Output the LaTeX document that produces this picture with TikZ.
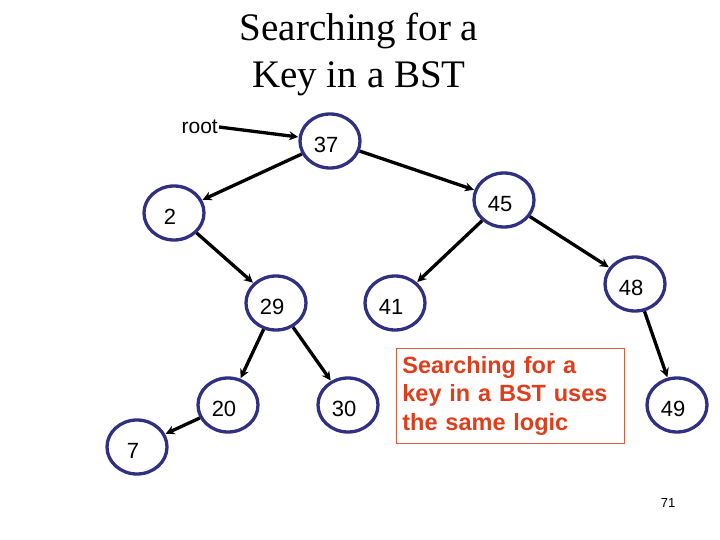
\documentclass[tikz,border=0pt]{standalone}
\usepackage{fontspec}
\setmainfont{Liberation Serif}
\newfontfamily\arialf{Liberation Sans}
\usetikzlibrary{shapes.geometric,arrows.meta}
\definecolor{navy}{RGB}{48,48,130}
\definecolor{redtext}{RGB}{222,62,28}
\definecolor{redbox}{RGB}{224,90,60}
\tikzset{
  bst/.style={ellipse, draw=navy, line width=3.3pt, minimum width=60pt, minimum height=54pt, inner sep=0pt},
  numlab/.style={font=\arialf\fontsize{22}{24}\selectfont, inner sep=0pt, xshift=-4pt, yshift=-4pt},
  edge/.style={line width=3.3pt, -{Stealth[length=9pt,width=9pt]}, shorten >=0.5pt}
}
\begin{document}
\begin{tikzpicture}[x=1pt,y=-1pt]
\useasboundingbox (0,0) rectangle (720,540);
\node[font=\fontsize{39}{47}\selectfont, align=center] (title) at (359,54) {Searching for a\\Key in a BST};
\node[font=\arialf\fontsize{21}{24}\selectfont, anchor=east, inner sep=1pt] (root) at (219,127) {root};
\node[bst, label={[numlab]center:37}] (n37) at (330,141) {};
\node[bst, label={[numlab]center:2}] (n2) at (174,213) {};
\node[bst, label={[numlab]center:45}] (n45) at (504,200) {};
\node[bst, label={[numlab]center:29}] (n29) at (276,303) {};
\node[bst, label={[numlab]center:41}] (n41) at (395,303) {};
\node[bst, label={[numlab]center:48}] (n48) at (635,284) {};
\node[bst, label={[numlab]center:20}] (n20) at (228,405) {};
\node[bst, label={[numlab]center:30}] (n30) at (348,405) {};
\node[bst, label={[numlab]center:49}] (n49) at (677,405) {};
\node[bst, label={[numlab]center:7}] (n7) at (137,447) {};
\node[draw=redbox, line width=0.8pt, anchor=north west, text width=216pt, inner xsep=6pt, inner ysep=0pt, minimum height=95pt, align=left, text=redtext, font=\arialf\bfseries\fontsize{23.5}{28.5}\selectfont] (box) at (396,348) {Searching for a\\key in a BST uses\\the same logic};
\node[font=\arialf\fontsize{13}{15}\selectfont] (page) at (668,503) {71};
\draw[edge] (root.east) -- (n37);
\draw[edge] (n37) -- (n2);
\draw[edge] (n37) -- (n45);
\draw[edge] (n2) -- (n29);
\draw[edge] (n45) -- (n41);
\draw[edge] (n45) -- (n48);
\draw[edge] (n29) -- (n20);
\draw[edge] (n29) -- (n30);
\draw[edge] (n48) -- (n49);
\draw[edge] (n20) -- (n7);
\end{tikzpicture}
\end{document}
